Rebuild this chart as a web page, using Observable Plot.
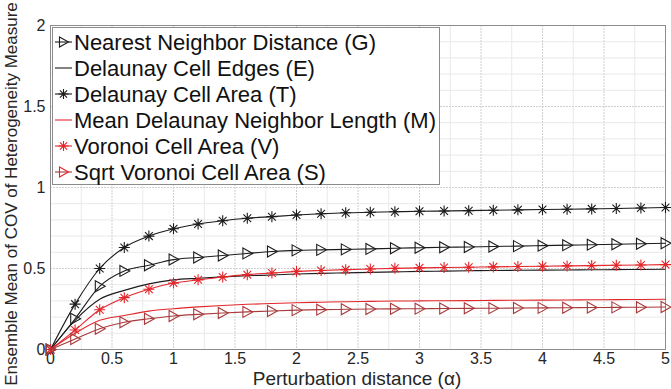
<!DOCTYPE html>
<html><head><meta charset="utf-8">
<script src="https://cdn.jsdelivr.net/npm/d3@7"></script>
<script src="https://cdn.jsdelivr.net/npm/@observablehq/plot@0.6"></script>
<style>
body{margin:0;background:#fff;}
#chart{width:671px;height:389px;position:relative;}
</style>
</head><body><div id="chart"></div>
<script>
// ---- data ----
const alpha = [0,0.2,0.4,0.6,0.8,1.0,1.2,1.4,1.6,1.8,2.0,2.2,2.4,2.6,2.8,3.0,3.2,3.4,3.6,3.8,4.0,4.2,4.4,4.6,4.8,5.0];
const seriesG = [0,0.19,0.39,0.485,0.52,0.555,0.568,0.58,0.593,0.605,0.612,0.615,0.618,0.621,0.625,0.628,0.631,0.633,0.636,0.638,0.641,0.644,0.647,0.65,0.653,0.656];
const seriesE = [0,0.18,0.31,0.365,0.405,0.43,0.44,0.448,0.455,0.46,0.466,0.47,0.473,0.476,0.479,0.482,0.484,0.486,0.488,0.489,0.49,0.491,0.492,0.493,0.494,0.495];
const seriesT = [0,0.28,0.50,0.63,0.70,0.745,0.775,0.795,0.81,0.82,0.83,0.838,0.844,0.847,0.85,0.853,0.855,0.857,0.86,0.862,0.864,0.866,0.868,0.87,0.873,0.877];
const seriesM = [0,0.1,0.18,0.21,0.237,0.252,0.263,0.272,0.279,0.284,0.289,0.292,0.295,0.297,0.299,0.3,0.301,0.302,0.303,0.304,0.305,0.306,0.307,0.308,0.309,0.31];
const seriesV = [0,0.12,0.245,0.32,0.372,0.41,0.43,0.448,0.462,0.472,0.482,0.488,0.493,0.497,0.501,0.504,0.506,0.508,0.51,0.512,0.514,0.516,0.518,0.52,0.522,0.524];
const seriesS = [0,0.065,0.128,0.168,0.19,0.207,0.217,0.225,0.232,0.238,0.243,0.246,0.248,0.25,0.251,0.252,0.253,0.254,0.255,0.256,0.257,0.258,0.259,0.26,0.261,0.262];
const seriesKeys = ["G","E","T","M","V","S"];
const seriesNames = ["Nearest Neighbor Distance (G)","Delaunay Cell Edges (E)","Delaunay Cell Area (T)","Mean Delaunay Neighbor Length (M)","Voronoi Cell Area (V)","Sqrt Voronoi Cell Area (S)"];
const majorX = [0,0.5,1,1.5,2,2.5,3,3.5,4,4.5,5];
const majorY = [0,0.5,1,1.5,2];
const minorX = [0.25,0.75,1.25,1.75,2.25,2.75,3.25,3.75,4.25,4.75];
const minorY = [0.1,0.2,0.3,0.4,0.6,0.7,0.8,0.9,1.1,1.2,1.3,1.4,1.6,1.7,1.8,1.9];
const xLabel = "Perturbation distance (\u03b1)";
const yLabel = "Ensemble Mean of COV of Heterogeneity Measure";

// ---- styling ----
const BLACK = "#1c1c1c", RED = "#e3262b", DRED = "#a8393b";
const fmt = d3.format("~g");
const triRight = {draw(ctx, size){const r=Math.sqrt(size/Math.PI); ctx.moveTo(-0.8*r,-r); ctx.lineTo(r,0); ctx.lineTo(-0.8*r,r); ctx.closePath();}};
const star8 = {draw(ctx, size){const r=Math.sqrt(size/Math.PI); for(let k=0;k<4;k++){const a=k*Math.PI/4; ctx.moveTo(Math.cos(a)*r,Math.sin(a)*r); ctx.lineTo(-Math.cos(a)*r,-Math.sin(a)*r);}}};
const style = {
  G:{line:BLACK, marker:BLACK, symbol:triRight},
  E:{line:BLACK, marker:null, symbol:null},
  T:{line:BLACK, marker:BLACK, symbol:star8},
  M:{line:RED, marker:null, symbol:null},
  V:{line:RED, marker:RED, symbol:star8},
  S:{line:DRED, marker:DRED, symbol:triRight}
};
const values = {G:seriesG,E:seriesE,T:seriesT,M:seriesM,V:seriesV,S:seriesS};

const marks = [
  Plot.gridX(minorX, {stroke:"#e9e9e9", strokeOpacity:1}),
  Plot.gridY(minorY, {stroke:"#e9e9e9", strokeOpacity:1}),
  Plot.gridX(majorX, {stroke:"#cfcfcf", strokeOpacity:1, strokeDasharray:"2,1"}),
  Plot.gridY(majorY, {stroke:"#cfcfcf", strokeOpacity:1, strokeDasharray:"2,1"}),
  Plot.frame({stroke:"#8c8c8c"}),
  Plot.axisX(majorX, {tickSize:0, tickPadding:3, fontSize:16, label:null, tickFormat:fmt}),
  Plot.axisY(majorY, {tickSize:0, tickPadding:5, fontSize:16, label:null, tickFormat:fmt})
];
for (const k of seriesKeys) {
  const rows = alpha.map((a,i)=>({x:a, y:values[k][i]}));
  marks.push(Plot.line(rows, {x:"x", y:"y", stroke:style[k].line, strokeWidth:1.1, curve:"monotone-x"}));
  if (style[k].symbol) marks.push(Plot.dot(rows, {x:"x", y:"y", stroke:style[k].marker, fill:"none", strokeWidth:1.1, r:5.5, symbol:style[k].symbol}));
}

const plot = Plot.plot({
  width:671, height:389,
  marginLeft:50, marginRight:6, marginTop:25, marginBottom:40,
  x:{domain:[0,5]}, y:{domain:[0,2]},
  style:{fontFamily:"'Liberation Sans', Arial, sans-serif", color:"#262626", background:"#fff"},
  marks
});
document.getElementById("chart").appendChild(plot);

// ---- labels & legend ----
const svg = d3.select(plot);
svg.append("text").attr("x",357).attr("y",385).attr("text-anchor","middle")
  .attr("font-size",19).attr("fill","#262626").text(xLabel);
svg.append("text").attr("transform","translate(17,194) rotate(-90)").attr("text-anchor","middle")
  .attr("font-size",17).attr("fill","#262626").text(yLabel);

const lg = svg.append("g").attr("text-anchor","start");
lg.append("rect").attr("x",52.5).attr("y",27.5).attr("width",387).attr("height",157)
  .attr("fill","#fff").attr("stroke","#8c8c8c");
seriesKeys.forEach((k,i)=>{
  const cy = 42 + i*26;
  lg.append("line").attr("x1",55).attr("x2",72).attr("y1",cy).attr("y2",cy)
    .attr("stroke",style[k].line).attr("stroke-width",1.1);
  if (style[k].symbol) lg.append("path").attr("transform",`translate(63.5,${cy})`)
    .attr("d",d3.symbol(style[k].symbol, Math.PI*5*5)()).attr("fill","none")
    .attr("stroke",k==="S"?RED:style[k].marker).attr("stroke-width",1.1);
  lg.append("text").attr("x",74).attr("y",cy+8).attr("text-anchor","start").attr("font-size",22).attr("fill","#111").text(seriesNames[i]);
});
</script>
</body></html>
